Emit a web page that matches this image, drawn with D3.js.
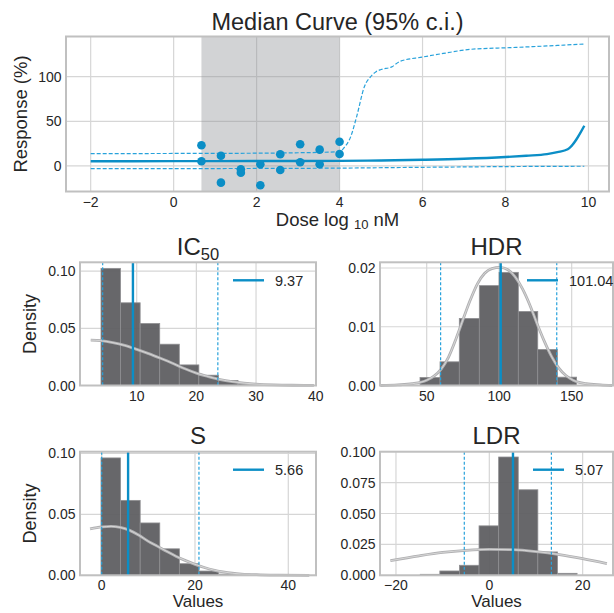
<!DOCTYPE html>
<html>
<head>
<meta charset="utf-8">
<script src="https://cdn.jsdelivr.net/npm/d3@7"></script>
<style>
body { margin: 0; background: #fff; }
text { font-family: "Liberation Sans", Arial, sans-serif; fill: #262626; }
</style>
</head>
<body>
<script>
// ---- top panel data ----
var doses = [0.67, 1.14, 1.62, 2.09, 2.57, 3.05, 3.52, 4.0];
var respA = [23.2, 11.5, -3.7, 1.9, 13.1, 24.3, 18.3, 27.2];
var respB = [5.3, -18.7, -7.5, -21.6, -4.5, 4.1, 1.9, 13.4];

var medX = [-2, 0, 2, 4, 5, 6, 7, 8, 8.5, 9, 9.25, 9.5, 9.9];
var medY = [5.3, 5.4, 5.5, 5.7, 6.2, 6.9, 8.0, 10.0, 11.5, 13.3, 15.5, 18.7, 45];

var upX = [-2, 0, 2, 3, 3.5, 4, 4.1, 4.27, 4.41, 4.6, 4.75, 4.88, 5.0, 5.26, 5.45, 6.0, 6.5, 7.15, 8.1, 9.0, 9.9];
var upY = [13.8, 14, 14.3, 14.8, 15.2, 16, 20, 33, 55, 89, 100, 105.6, 108, 111, 117, 122, 126, 130.6, 132.5, 134.4, 136.6];

var loX = [-2, 2, 4, 6, 8, 9.9];
var loY = [-3.0, -2.8, -2.4, -1.5, -0.7, -0.3];

var shadeRange = [0.67, 4.0];
var topXTicks = [-2, 0, 2, 4, 6, 8, 10];
var topYTicks = [0, 50, 100];

// ---- histogram data ----
var ic50Edges = [4.02, 7.30, 10.58, 13.86, 17.14, 20.42, 23.70, 26.98, 30.26, 33.54, 36.82];
var ic50Density = [0.1024, 0.0723, 0.0542, 0.0361, 0.0180, 0.0090, 0.0044, 0.0014, 0.0003, 0.0002];
var ic50KdeX = [2.3, 4, 6, 8, 10, 12, 14, 16, 18, 20, 22, 24, 26, 28, 30, 33, 36, 39.7];
var ic50KdeY = [0.0397, 0.0392, 0.0375, 0.0350, 0.0316, 0.0279, 0.0238, 0.0195, 0.0148, 0.0108, 0.0078, 0.0052, 0.0034, 0.0021, 0.0012, 0.0005, 0.0002, 0.0001];
var ic50Lines = [4.3, 9.37, 23.6];

var hdrEdges = [45.4, 59.2, 72.5, 86.3, 99.9, 113.2, 126.6, 140.1, 153.4];
var hdrDensity = [0.00136, 0.00403, 0.01142, 0.0170, 0.01926, 0.01261, 0.00614, 0.00142];
var hdrKdeX = [18, 30, 40, 50, 55, 60, 65, 70, 75, 80, 85, 90, 95, 100.5, 106, 111, 116, 121, 126, 131, 136, 141, 146, 151, 160, 170, 178];
var hdrKdeY = [0.0000, 0.0001, 0.0003, 0.0009, 0.0016, 0.0028, 0.0048, 0.0078, 0.0112, 0.0145, 0.0173, 0.0191, 0.0199, 0.0201, 0.0197, 0.0185, 0.0165, 0.0138, 0.0106, 0.0076, 0.0050, 0.0030, 0.0017, 0.0009, 0.0003, 0.0001, 0.0000];
var hdrLines = [59.6, 101.04, 139.7];

var sEdges = [-0.15, 4.05, 8.25, 12.45, 16.65, 20.85, 25.05, 29.25, 33.45, 37.65, 41.85];
var sDensity = [0.0962, 0.0614, 0.0429, 0.0217, 0.0095, 0.0035, 0.0010, 0.0003, 0.0001, 0.0001];
var sKdeX = [-2.5, 0, 2, 4, 6, 8, 10, 12, 14, 16, 18, 20, 22, 24, 26, 28, 30, 34, 38, 44.5];
var sKdeY = [0.0380, 0.0396, 0.0401, 0.0392, 0.0368, 0.0328, 0.0278, 0.0237, 0.0195, 0.0155, 0.0120, 0.0090, 0.0064, 0.0043, 0.0028, 0.0017, 0.0010, 0.0004, 0.0001, 0.0000];
var sLines = [0.0, 5.66, 20.85];

var ldrEdges = [-14.8, -10.6, -6.4, -2.2, 2.0, 6.2, 10.4, 14.6, 18.8];
var ldrDensity = [0.0008, 0.0035, 0.0081, 0.0400, 0.0957, 0.0692, 0.0189, 0.0016];
var ldrKdeX = [-21.2, -15, -10, -5, 0, 5, 10, 15, 20, 25.2];
var ldrKdeY = [0.0118, 0.0158, 0.0185, 0.0202, 0.0210, 0.0207, 0.0192, 0.0168, 0.0135, 0.0095];
var ldrLines = [-5.36, 5.07, 13.3];

var blue = '#0b8ec6';
var dashBlue = '#28a2db';
var gridColor = '#d6d6d6';
var frameColor = '#c0c0c0';

var fmtMinus = function (f) {
    return function (v) { return d3.format(f)(v).replace('-', '\u2212'); };
};

var svg = d3.select('body').append('svg')
    .attr('width', 614)
    .attr('height', 613);

// ================= top panel =================
var tL = 66, tR = 609, tT = 36.5, tB = 191.5;
var tx = d3.scaleLinear().domain([-2.595, 10.495]).range([tL, tR]);
var ty = d3.scaleLinear().domain([-28.6, 145.0]).range([tB, tT]);

var curvePanel = svg.append('g');

curvePanel.selectAll('.gx').data(topXTicks).enter().append('line')
    .attr('x1', function (d) { return tx(d); })
    .attr('x2', function (d) { return tx(d); })
    .attr('y1', tT).attr('y2', tB)
    .attr('stroke', gridColor).attr('stroke-width', 1.2);
curvePanel.selectAll('.gy').data(topYTicks).enter().append('line')
    .attr('x1', tL).attr('x2', tR)
    .attr('y1', function (d) { return ty(d); })
    .attr('y2', function (d) { return ty(d); })
    .attr('stroke', gridColor).attr('stroke-width', 1.2);

curvePanel.append('rect')
    .attr('x', tx(shadeRange[0]))
    .attr('y', tT)
    .attr('width', tx(shadeRange[1]) - tx(shadeRange[0]))
    .attr('height', tB - tT)
    .attr('fill', '#8e9196')
    .attr('opacity', 0.4);

var topLine = function (xs, ys) {
    return d3.line()
        .x(function (d, i) { return tx(xs[i]); })
        .y(function (d, i) { return ty(ys[i]); })
        .curve(d3.curveMonotoneX)(xs);
};

curvePanel.append('path').attr('d', topLine(upX, upY))
    .attr('fill', 'none').attr('stroke', dashBlue).attr('stroke-width', 1.2)
    .attr('stroke-dasharray', '4,2');
curvePanel.append('path').attr('d', topLine(loX, loY))
    .attr('fill', 'none').attr('stroke', dashBlue).attr('stroke-width', 1.2)
    .attr('stroke-dasharray', '4,2');
curvePanel.append('path').attr('d', topLine(medX, medY))
    .attr('fill', 'none').attr('stroke', blue).attr('stroke-width', 2.4);

var pts = doses.map(function (d, i) { return [d, respA[i]]; })
    .concat(doses.map(function (d, i) { return [d, respB[i]]; }));
curvePanel.selectAll('.pt').data(pts).enter().append('circle')
    .attr('cx', function (d) { return tx(d[0]); })
    .attr('cy', function (d) { return ty(d[1]); })
    .attr('r', 4.3)
    .attr('fill', blue);

curvePanel.append('rect')
    .attr('x', tL).attr('y', tT)
    .attr('width', tR - tL).attr('height', tB - tT)
    .attr('fill', 'none').attr('stroke', frameColor).attr('stroke-width', 2);

curvePanel.selectAll('.tx').data(topXTicks).enter().append('text')
    .attr('x', function (d) { return tx(d); })
    .attr('y', tB + 15.5)
    .attr('text-anchor', 'middle')
    .attr('font-size', 14)
    .text(fmtMinus('d'));
curvePanel.selectAll('.ty').data(topYTicks).enter().append('text')
    .attr('x', tL - 4.5)
    .attr('y', function (d) { return ty(d); })
    .attr('dy', '0.36em')
    .attr('text-anchor', 'end')
    .attr('font-size', 14)
    .text(fmtMinus('d'));

curvePanel.append('text')
    .attr('x', (tL + tR) / 2).attr('y', 29.5)
    .attr('text-anchor', 'middle').attr('font-size', 23.5)
    .text('Median Curve (95% c.i.)');

curvePanel.append('text')
    .attr('transform', 'translate(27,' + ((tT + tB) / 2) + ') rotate(-90)')
    .attr('text-anchor', 'middle').attr('font-size', 18.5)
    .text('Response (%)');

var doseLabel = curvePanel.append('text')
    .attr('x', (tL + tR) / 2).attr('y', 226)
    .attr('text-anchor', 'middle').attr('font-size', 18.5);
doseLabel.append('tspan').text('Dose log ');
doseLabel.append('tspan').attr('font-size', 13).attr('dy', 3).text('10');
doseLabel.append('tspan').attr('dy', -3).text(' nM');

// ================= histogram panels =================
var panels = [
    { title: 'IC', sub: '50', edges: ic50Edges, dens: ic50Density, kx: ic50KdeX, ky: ic50KdeY,
      lines: ic50Lines, legend: '9.37', xDomain: [0.5, 40.05], yDomain: [0, 0.1077],
      xTicks: [10, 20, 30, 40], yTicks: [0, 0.05, 0.1], yFmt: '.2f',
      box: [80, 262.3, 316, 385.5], legX: 233, ylabel: true, xlabel: false },
    { title: 'HDR', sub: '', edges: hdrEdges, dens: hdrDensity, kx: hdrKdeX, ky: hdrKdeY,
      lines: hdrLines, legend: '101.04', xDomain: [17.8, 178.5], yDomain: [0, 0.02097],
      xTicks: [50, 100, 150], yTicks: [0, 0.01, 0.02], yFmt: '.2f',
      box: [380, 262.3, 613, 385.5], legX: 527, ylabel: false, xlabel: false },
    { title: 'S', sub: '', edges: sEdges, dens: sDensity, kx: sKdeX, ky: sKdeY,
      lines: sLines, legend: '5.66', xDomain: [-4.65, 45.94], yDomain: [0, 0.1013],
      xTicks: [0, 20, 40], yTicks: [0, 0.05, 0.1], yFmt: '.2f',
      box: [80, 451.7, 316, 575.3], legX: 233, ylabel: true, xlabel: true },
    { title: 'LDR', sub: '', edges: ldrEdges, dens: ldrDensity, kx: ldrKdeX, ky: ldrKdeY,
      lines: ldrLines, legend: '5.07', xDomain: [-23.42, 26.5], yDomain: [0, 0.1],
      xTicks: [-20, 0, 20], yTicks: [0, 0.025, 0.05, 0.075, 0.1], yFmt: '.3f',
      box: [380, 451.7, 613, 575.3], legX: 533, ylabel: false, xlabel: true }
];

panels.forEach(function (p) {
    var L = p.box[0], T = p.box[1], R = p.box[2], B = p.box[3];
    var x = d3.scaleLinear().domain(p.xDomain).range([L, R]);
    var y = d3.scaleLinear().domain(p.yDomain).range([B, T]);
    var g = svg.append('g');

    g.selectAll('.gx').data(p.xTicks).enter().append('line')
        .attr('x1', function (d) { return x(d); })
        .attr('x2', function (d) { return x(d); })
        .attr('y1', T).attr('y2', B)
        .attr('stroke', gridColor).attr('stroke-width', 1.2);
    g.selectAll('.gy').data(p.yTicks).enter().append('line')
        .attr('x1', L).attr('x2', R)
        .attr('y1', function (d) { return y(d); })
        .attr('y2', function (d) { return y(d); })
        .attr('stroke', gridColor).attr('stroke-width', 1.2);

    g.selectAll('.bar').data(p.dens).enter().append('rect')
        .attr('x', function (d, i) { return x(p.edges[i]); })
        .attr('width', function (d, i) { return x(p.edges[i + 1]) - x(p.edges[i]); })
        .attr('y', function (d) { return y(d); })
        .attr('height', function (d) { return y(0) - y(d); })
        .attr('fill', '#5e5e61')
        .attr('fill-opacity', 0.94)
        .attr('stroke', '#8f8f92')
        .attr('stroke-width', 0.8);

    var kde = d3.line()
        .x(function (d, i) { return x(p.kx[i]); })
        .y(function (d, i) { return y(p.ky[i]); })
        .curve(d3.curveMonotoneX)(p.kx);
    g.append('path').attr('d', kde)
        .attr('fill', 'none').attr('stroke', '#b0b0b2').attr('stroke-width', 2.8);
    g.append('path').attr('d', kde)
        .attr('fill', 'none').attr('stroke', '#dadada').attr('stroke-width', 0.9);

    g.selectAll('.vl').data(p.lines).enter().append('line')
        .attr('x1', function (d) { return x(d); })
        .attr('x2', function (d) { return x(d); })
        .attr('y1', T).attr('y2', B)
        .attr('stroke', function (d, i) { return i === 1 ? blue : dashBlue; })
        .attr('stroke-width', function (d, i) { return i === 1 ? 2.4 : 1.2; })
        .attr('stroke-dasharray', function (d, i) { return i === 1 ? null : '3,2'; });

    g.append('rect')
        .attr('x', L).attr('y', T)
        .attr('width', R - L).attr('height', B - T)
        .attr('fill', 'none').attr('stroke', frameColor).attr('stroke-width', 2);

    // legend
    g.append('line')
        .attr('x1', p.legX).attr('x2', p.legX + 31)
        .attr('y1', T + 18).attr('y2', T + 18)
        .attr('stroke', blue).attr('stroke-width', 2.4);
    g.append('text')
        .attr('x', p.legX + 42).attr('y', T + 18)
        .attr('dy', '0.36em')
        .attr('font-size', 14.5)
        .text(p.legend);

    g.selectAll('.tx').data(p.xTicks).enter().append('text')
        .attr('x', function (d) { return x(d); })
        .attr('y', B + 15)
        .attr('text-anchor', 'middle')
        .attr('font-size', 14)
        .text(fmtMinus('d'));
    g.selectAll('.ty').data(p.yTicks).enter().append('text')
        .attr('x', L - 4.5)
        .attr('y', function (d) { return y(d); })
        .attr('dy', '0.36em')
        .attr('text-anchor', 'end')
        .attr('font-size', 14)
        .text(d3.format(p.yFmt));

    var title = g.append('text')
        .attr('x', (L + R) / 2).attr('y', T - 7.5)
        .attr('text-anchor', 'middle').attr('font-size', 24);
    title.append('tspan').text(p.title);
    if (p.sub) {
        title.append('tspan').attr('font-size', 16.5).attr('dy', 5).text(p.sub);
    }

    if (p.ylabel) {
        g.append('text')
            .attr('transform', 'translate(36,' + ((T + B) / 2) + ') rotate(-90)')
            .attr('text-anchor', 'middle').attr('font-size', 18)
            .text('Density');
    }
    if (p.xlabel) {
        g.append('text')
            .attr('x', (L + R) / 2).attr('y', 607)
            .attr('text-anchor', 'middle').attr('font-size', 17)
            .text('Values');
    }
});
</script>
</body>
</html>
